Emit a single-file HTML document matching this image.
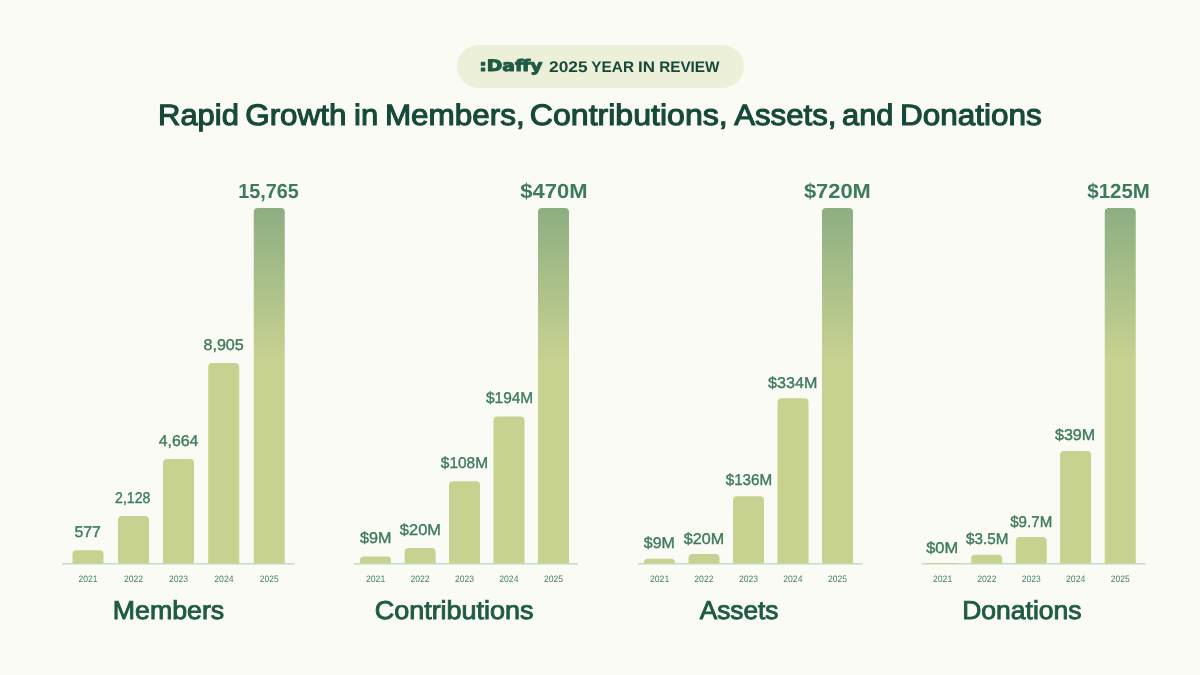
<!DOCTYPE html>
<html lang="en"><head><meta charset="utf-8"><title>Daffy 2025 Year in Review</title>
<style>html,body{margin:0;padding:0;background:#FAFBF5;}body{width:1200px;height:675px;overflow:hidden;}svg{display:block;}text{font-family:"Liberation Sans",sans-serif;white-space:pre;text-rendering:geometricPrecision;}</style>
</head><body>
<svg width="1200" height="675" viewBox="0 0 1200 675">
<defs><linearGradient id="g" x1="0" y1="0" x2="0" y2="1"><stop offset="0" stop-color="#8DAE82"/><stop offset="0.42" stop-color="#C7D190"/><stop offset="1" stop-color="#C7D190"/></linearGradient></defs>
<rect width="1200" height="675" fill="#FAFBF5"/>
<rect x="457" y="45" width="287" height="43" rx="21.5" fill="#ECF0D9"/>
<rect x="62.00" y="563.05" width="232.50" height="1.45" fill="#BFDCC6"/>
<path d="M72.50 563.60 V554.20 Q72.50 550.20 76.50 550.20 H99.50 Q103.50 550.20 103.50 554.20 V563.60 Z" fill="#C7D190"/>
<path d="M118.00 563.60 V520.00 Q118.00 516.00 122.00 516.00 H145.00 Q149.00 516.00 149.00 520.00 V563.60 Z" fill="#C7D190"/>
<path d="M163.00 563.60 V463.00 Q163.00 459.00 167.00 459.00 H190.00 Q194.00 459.00 194.00 463.00 V563.60 Z" fill="#C7D190"/>
<path d="M208.25 563.60 V367.00 Q208.25 363.00 212.25 363.00 H235.25 Q239.25 363.00 239.25 367.00 V563.60 Z" fill="#C7D190"/>
<path d="M253.75 563.60 V212.00 Q253.75 208.00 257.75 208.00 H280.75 Q284.75 208.00 284.75 212.00 V563.60 Z" fill="url(#g)"/>
<rect x="354.00" y="563.05" width="224.00" height="1.45" fill="#BFDCC6"/>
<path d="M360.00 563.60 V560.40 Q360.00 556.40 364.00 556.40 H387.00 Q391.00 556.40 391.00 560.40 V563.60 Z" fill="#C7D190"/>
<path d="M404.60 563.60 V552.10 Q404.60 548.10 408.60 548.10 H431.60 Q435.60 548.10 435.60 552.10 V563.60 Z" fill="#C7D190"/>
<path d="M449.00 563.60 V485.30 Q449.00 481.30 453.00 481.30 H476.00 Q480.00 481.30 480.00 485.30 V563.60 Z" fill="#C7D190"/>
<path d="M493.50 563.60 V420.40 Q493.50 416.40 497.50 416.40 H520.50 Q524.50 416.40 524.50 420.40 V563.60 Z" fill="#C7D190"/>
<path d="M538.00 563.60 V212.00 Q538.00 208.00 542.00 208.00 H565.00 Q569.00 208.00 569.00 212.00 V563.60 Z" fill="url(#g)"/>
<rect x="637.80" y="563.05" width="224.70" height="1.45" fill="#BFDCC6"/>
<path d="M644.00 563.60 V562.80 Q644.00 558.80 648.00 558.80 H671.00 Q675.00 558.80 675.00 562.80 V563.60 Z" fill="#C7D190"/>
<path d="M688.50 563.60 V558.00 Q688.50 554.00 692.50 554.00 H715.50 Q719.50 554.00 719.50 558.00 V563.60 Z" fill="#C7D190"/>
<path d="M733.00 563.60 V500.20 Q733.00 496.20 737.00 496.20 H760.00 Q764.00 496.20 764.00 500.20 V563.60 Z" fill="#C7D190"/>
<path d="M777.50 563.60 V402.30 Q777.50 398.30 781.50 398.30 H804.50 Q808.50 398.30 808.50 402.30 V563.60 Z" fill="#C7D190"/>
<path d="M822.00 563.60 V212.00 Q822.00 208.00 826.00 208.00 H849.00 Q853.00 208.00 853.00 212.00 V563.60 Z" fill="url(#g)"/>
<rect x="922.00" y="563.05" width="223.50" height="1.45" fill="#BFDCC6"/>
<rect x="927.00" y="563.00" width="31" height="1" fill="#C7D190"/>
<path d="M971.25 563.60 V558.75 Q971.25 554.75 975.25 554.75 H998.25 Q1002.25 554.75 1002.25 558.75 V563.60 Z" fill="#C7D190"/>
<path d="M1015.75 563.60 V541.00 Q1015.75 537.00 1019.75 537.00 H1042.75 Q1046.75 537.00 1046.75 541.00 V563.60 Z" fill="#C7D190"/>
<path d="M1060.10 563.60 V455.10 Q1060.10 451.10 1064.10 451.10 H1087.10 Q1091.10 451.10 1091.10 455.10 V563.60 Z" fill="#C7D190"/>
<path d="M1104.75 563.60 V212.00 Q1104.75 208.00 1108.75 208.00 H1131.75 Q1135.75 208.00 1135.75 212.00 V563.60 Z" fill="url(#g)"/>
<text x="479.23" y="71.30" font-size="15.8" font-weight="700" fill="#1F5A45" stroke="#1F5A45" stroke-width="1.0" style="font-family:'DejaVu Sans','Liberation Sans',sans-serif" stroke-linejoin="round" textLength="63.15" lengthAdjust="spacingAndGlyphs">:Daffy</text>
<text y="72.00" font-size="15.3" font-weight="700" fill="#17493A"><tspan x="549.09" textLength="38.48" lengthAdjust="spacingAndGlyphs">2025</tspan> <tspan x="591.35" textLength="42.68" lengthAdjust="spacingAndGlyphs">YEAR</tspan> <tspan x="637.98" textLength="17.00" lengthAdjust="spacingAndGlyphs">IN</tspan> <tspan x="659.13" textLength="60.41" lengthAdjust="spacingAndGlyphs">REVIEW</tspan></text>
<text y="125.00" font-size="29.5" font-weight="400" fill="#17493A" stroke="#17493A" stroke-width="1.1"><tspan x="158.08" textLength="80.81" lengthAdjust="spacingAndGlyphs">Rapid</tspan> <tspan x="245.22" textLength="101.20" lengthAdjust="spacingAndGlyphs">Growth</tspan> <tspan x="354.14" textLength="24.16" lengthAdjust="spacingAndGlyphs">in</tspan> <tspan x="384.92" textLength="139.76" lengthAdjust="spacingAndGlyphs">Members,</tspan> <tspan x="529.77" textLength="198.01" lengthAdjust="spacingAndGlyphs">Contributions,</tspan> <tspan x="734.21" textLength="102.26" lengthAdjust="spacingAndGlyphs">Assets,</tspan> <tspan x="842.09" textLength="51.30" lengthAdjust="spacingAndGlyphs">and</tspan> <tspan x="899.92" textLength="141.83" lengthAdjust="spacingAndGlyphs">Donations</tspan></text>
<text x="74.46" y="537.30" font-size="15.6" font-weight="400" fill="#3E7A5C" stroke="#3E7A5C" stroke-width="0.38" textLength="26.41" lengthAdjust="spacingAndGlyphs">577</text>
<text x="78.55" y="581.80" font-size="9.3" font-weight="400" fill="#4A8366" textLength="19.02" lengthAdjust="spacingAndGlyphs">2021</text>
<text x="115.06" y="503.10" font-size="15.6" font-weight="400" fill="#3E7A5C" stroke="#3E7A5C" stroke-width="0.38" textLength="35.29" lengthAdjust="spacingAndGlyphs">2,128</text>
<text x="123.91" y="581.80" font-size="9.3" font-weight="400" fill="#4A8366" textLength="19.20" lengthAdjust="spacingAndGlyphs">2022</text>
<text x="158.80" y="446.00" font-size="15.6" font-weight="400" fill="#3E7A5C" stroke="#3E7A5C" stroke-width="0.38" textLength="39.60" lengthAdjust="spacingAndGlyphs">4,664</text>
<text x="168.91" y="581.80" font-size="9.3" font-weight="400" fill="#4A8366" textLength="19.07" lengthAdjust="spacingAndGlyphs">2023</text>
<text x="203.48" y="350.30" font-size="15.6" font-weight="400" fill="#3E7A5C" stroke="#3E7A5C" stroke-width="0.38" textLength="40.29" lengthAdjust="spacingAndGlyphs">8,905</text>
<text x="214.30" y="581.80" font-size="9.3" font-weight="400" fill="#4A8366" textLength="19.26" lengthAdjust="spacingAndGlyphs">2024</text>
<text x="238.23" y="197.60" font-size="20.5" font-weight="700" fill="#3E7A5C" textLength="60.62" lengthAdjust="spacingAndGlyphs">15,765</text>
<text x="259.82" y="581.80" font-size="9.3" font-weight="400" fill="#4A8366" textLength="18.88" lengthAdjust="spacingAndGlyphs">2025</text>
<text x="112.71" y="618.75" font-size="25.8" font-weight="400" fill="#1F5A45" stroke="#1F5A45" stroke-width="0.9" textLength="111.55" lengthAdjust="spacingAndGlyphs">Members</text>
<text x="359.96" y="543.00" font-size="15.6" font-weight="400" fill="#3E7A5C" stroke="#3E7A5C" stroke-width="0.38" textLength="31.44" lengthAdjust="spacingAndGlyphs">$9M</text>
<text x="365.91" y="581.80" font-size="9.3" font-weight="400" fill="#4A8366" textLength="19.33" lengthAdjust="spacingAndGlyphs">2021</text>
<text x="399.89" y="534.65" font-size="15.6" font-weight="400" fill="#3E7A5C" stroke="#3E7A5C" stroke-width="0.38" textLength="41.08" lengthAdjust="spacingAndGlyphs">$20M</text>
<text x="410.49" y="581.80" font-size="9.3" font-weight="400" fill="#4A8366" textLength="19.16" lengthAdjust="spacingAndGlyphs">2022</text>
<text x="440.80" y="468.00" font-size="15.6" font-weight="400" fill="#3E7A5C" stroke="#3E7A5C" stroke-width="0.38" textLength="47.20" lengthAdjust="spacingAndGlyphs">$108M</text>
<text x="454.91" y="581.80" font-size="9.3" font-weight="400" fill="#4A8366" textLength="19.07" lengthAdjust="spacingAndGlyphs">2023</text>
<text x="485.98" y="403.00" font-size="15.6" font-weight="400" fill="#3E7A5C" stroke="#3E7A5C" stroke-width="0.38" textLength="47.23" lengthAdjust="spacingAndGlyphs">$194M</text>
<text x="499.29" y="581.80" font-size="9.3" font-weight="400" fill="#4A8366" textLength="19.17" lengthAdjust="spacingAndGlyphs">2024</text>
<text x="520.39" y="197.60" font-size="20.5" font-weight="700" fill="#3E7A5C" textLength="67.22" lengthAdjust="spacingAndGlyphs">$470M</text>
<text x="543.91" y="581.80" font-size="9.3" font-weight="400" fill="#4A8366" textLength="19.04" lengthAdjust="spacingAndGlyphs">2025</text>
<text x="374.68" y="618.75" font-size="25.8" font-weight="400" fill="#1F5A45" stroke="#1F5A45" stroke-width="0.9" textLength="158.87" lengthAdjust="spacingAndGlyphs">Contributions</text>
<text x="643.89" y="548.00" font-size="15.6" font-weight="400" fill="#3E7A5C" stroke="#3E7A5C" stroke-width="0.38" textLength="31.01" lengthAdjust="spacingAndGlyphs">$9M</text>
<text x="649.91" y="581.80" font-size="9.3" font-weight="400" fill="#4A8366" textLength="19.33" lengthAdjust="spacingAndGlyphs">2021</text>
<text x="683.89" y="543.65" font-size="15.6" font-weight="400" fill="#3E7A5C" stroke="#3E7A5C" stroke-width="0.38" textLength="40.34" lengthAdjust="spacingAndGlyphs">$20M</text>
<text x="694.30" y="581.80" font-size="9.3" font-weight="400" fill="#4A8366" textLength="19.29" lengthAdjust="spacingAndGlyphs">2022</text>
<text x="725.69" y="484.90" font-size="15.6" font-weight="400" fill="#3E7A5C" stroke="#3E7A5C" stroke-width="0.38" textLength="46.55" lengthAdjust="spacingAndGlyphs">$136M</text>
<text x="738.91" y="581.80" font-size="9.3" font-weight="400" fill="#4A8366" textLength="19.07" lengthAdjust="spacingAndGlyphs">2023</text>
<text x="768.10" y="387.90" font-size="15.6" font-weight="400" fill="#3E7A5C" stroke="#3E7A5C" stroke-width="0.38" textLength="49.21" lengthAdjust="spacingAndGlyphs">$334M</text>
<text x="783.29" y="581.80" font-size="9.3" font-weight="400" fill="#4A8366" textLength="19.17" lengthAdjust="spacingAndGlyphs">2024</text>
<text x="803.91" y="197.60" font-size="20.5" font-weight="700" fill="#3E7A5C" textLength="66.90" lengthAdjust="spacingAndGlyphs">$720M</text>
<text x="827.91" y="581.80" font-size="9.3" font-weight="400" fill="#4A8366" textLength="19.04" lengthAdjust="spacingAndGlyphs">2025</text>
<text x="699.72" y="618.75" font-size="25.8" font-weight="400" fill="#1F5A45" stroke="#1F5A45" stroke-width="0.9" textLength="78.78" lengthAdjust="spacingAndGlyphs">Assets</text>
<text x="926.20" y="552.55" font-size="15.6" font-weight="400" fill="#3E7A5C" stroke="#3E7A5C" stroke-width="0.38" textLength="31.97" lengthAdjust="spacingAndGlyphs">$0M</text>
<text x="932.91" y="581.80" font-size="9.3" font-weight="400" fill="#4A8366" textLength="19.33" lengthAdjust="spacingAndGlyphs">2021</text>
<text x="966.02" y="543.95" font-size="15.6" font-weight="400" fill="#3E7A5C" stroke="#3E7A5C" stroke-width="0.38" textLength="42.34" lengthAdjust="spacingAndGlyphs">$3.5M</text>
<text x="977.23" y="581.80" font-size="9.3" font-weight="400" fill="#4A8366" textLength="19.26" lengthAdjust="spacingAndGlyphs">2022</text>
<text x="1010.22" y="526.60" font-size="15.6" font-weight="400" fill="#3E7A5C" stroke="#3E7A5C" stroke-width="0.38" textLength="42.00" lengthAdjust="spacingAndGlyphs">$9.7M</text>
<text x="1021.82" y="581.80" font-size="9.3" font-weight="400" fill="#4A8366" textLength="18.90" lengthAdjust="spacingAndGlyphs">2023</text>
<text x="1054.96" y="440.00" font-size="15.6" font-weight="400" fill="#3E7A5C" stroke="#3E7A5C" stroke-width="0.38" textLength="40.28" lengthAdjust="spacingAndGlyphs">$39M</text>
<text x="1065.96" y="581.80" font-size="9.3" font-weight="400" fill="#4A8366" textLength="19.45" lengthAdjust="spacingAndGlyphs">2024</text>
<text x="1087.27" y="197.60" font-size="20.5" font-weight="700" fill="#3E7A5C" textLength="62.61" lengthAdjust="spacingAndGlyphs">$125M</text>
<text x="1110.82" y="581.80" font-size="9.3" font-weight="400" fill="#4A8366" textLength="18.88" lengthAdjust="spacingAndGlyphs">2025</text>
<text x="962.20" y="618.75" font-size="25.8" font-weight="400" fill="#1F5A45" stroke="#1F5A45" stroke-width="0.9" textLength="119.39" lengthAdjust="spacingAndGlyphs">Donations</text>
</svg>
</body></html>
